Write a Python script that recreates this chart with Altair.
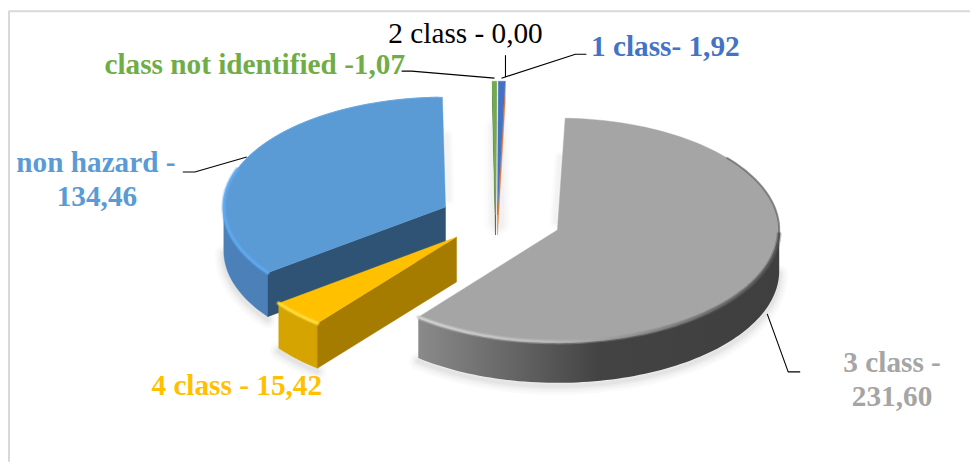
import math
import altair as alt

# ---- data
categories = ["3 class", "4 class", "non hazard", "class not identified", "1 class"]
values = [231.60, 15.42, 134.46, 1.07, 1.92]
zero_class = ("2 class", 0.00)
label_lines = [
    "2 class - 0,00", "class not identified -1,07", "1 class- 1,92",
    "non hazard -", "134,46", "4 class - 15,42", "3 class -", "231,60",
]

# ---- styling and placement
W, H = 963, 454
OFF = 8
START = 2.0
RX = 222
TOTAL = sum(values) + zero_class[1]
SERIF = "Liberation Serif"
GRAY_WALL = {"gradient": "linear", "x1": 0, "x2": 1, "y1": 0, "y2": 0, "stops": [
    {"offset": 0, "color": "#8a8a8a"}, {"offset": 0.25, "color": "#676767"},
    {"offset": 0.5, "color": "#434343"}, {"offset": 1, "color": "#3f3f3f"}]}
GRAY_RIM = {"gradient": "linear", "x1": 0, "x2": 1, "y1": 0, "y2": 0, "stops": [
    {"offset": 0, "color": "#d2d2d2"}, {"offset": 0.35, "color": "#bcbcbc"},
    {"offset": 0.6, "color": "#929292"}, {"offset": 0.85, "color": "#666666"},
    {"offset": 1, "color": "#505050"}]}
style = {
    "3 class": dict(c=(558, 230), ry=112, d=41, top="#a5a5a5", wall=GRAY_WALL, face="#7c7c7c",
                    rim=GRAY_RIM, rim_to=None),
    "4 class": dict(c=(457, 237), ry=111, d=45, top="#ffc000", wall="#d5a400", face="#a57b00",
                    rim="#ffdc40", rim_to=None),
    "non hazard": dict(c=(446, 207), ry=110, d=44, top="#5b9bd5", wall="#4b81b8", face="#2f5374",
                       rim="#5fa9f0", rim_to=290),
    "class not identified": dict(c=(496, 215), ry=134, d=20, top="#70ad47", wall="#3f6529",
                                 face="#3f6529", rim=None, rim_to=None),
    "1 class": dict(c=(498, 215), ry=134, d=20, top="#4472c4", wall="#ed7d31", face="#ed7d31",
                    rim=None, rim_to=None),
}
label_style = [
    (466, 43, "normal", "#000000"), (255, 74, "bold", "#70ad47"), (666, 56, "bold", "#4472c4"),
    (96, 172, "bold", "#5b9bd5"), (97, 206, "bold", "#5b9bd5"), (237, 395, "bold", "#ffc000"),
    (893, 372, "bold", "#a5a5a5"), (893, 406, "bold", "#a5a5a5"),
]
leaders = [
    [(402, 71), (412, 71), (495, 78)],
    [(506, 55), (506, 77)],
    [(502, 78), (576, 54), (587, 54)],
    [(183, 172), (195, 172), (247, 157)],
    [(768, 314), (789, 372), (801, 372)],
]
frame = [(9, 462), (9, 11), (971, 11)]

XS = alt.Scale(domain=[OFF, OFF + W], range=[0, W], nice=False, zero=False)
YS = alt.Scale(domain=[OFF + H, OFF], range=[H, 0], nice=False, zero=False)


def point(s, deg, drop=0, frac=1.0):
    t = math.radians(deg)
    return (s["c"][0] + frac * RX * math.sin(t), s["c"][1] - frac * s["ry"] * math.cos(t) + drop)


def arc(s, a, b, drop=0):
    n = max(2, int(abs(b - a) / 1.5) + 1)
    return [point(s, a + (b - a) * i / (n - 1), drop) for i in range(n)]


def path(pts, **mark):
    rows = [{"px": float(x), "py": float(y), "i": i} for i, (x, y) in enumerate(pts)]
    return alt.Chart(alt.Data(values=rows)).mark_line(**mark).encode(
        x=alt.X("px:Q", scale=XS, axis=None),
        y=alt.Y("py:Q", scale=YS, axis=None),
        order=alt.Order("i:Q"),
    )


def poly(pts, fill, **kw):
    closed = list(pts) + [pts[0]]
    stroke = fill if isinstance(fill, str) else "transparent"
    return path(closed, fill=fill, stroke=stroke, strokeWidth=kw.pop("sw", 0.4), strokeJoin="round", **kw)


def line(pts, stroke, width, **kw):
    return path(pts, stroke=stroke, strokeWidth=width, strokeJoin="round", **kw)


# angular spans, clockwise from the top, derived from the values
spans = {}
a = START
for name, v in zip(categories, values):
    sweep = v / TOTAL * 360
    spans[name] = (a, a + sweep)
    a += sweep
g = spans["class not identified"][1] - spans["class not identified"][0]
b = spans["1 class"][1] - spans["1 class"][0]
spans["1 class"] = (START - b, START)
spans["class not identified"] = (START - b - g, START - b)

layers = [line(frame, "#d9d9d9", 2)]

# soft shadows
for name in categories[:3]:
    s, (a0, a1) = style[name], spans[name]
    lo, hi = max(a0, 90), min(a1, 270)
    if hi > lo:
        for w, o in ((18, 0.02), (13, 0.025), (8, 0.03), (4, 0.03)):
            pts = [(x, y + 3) for x, y in arc(s, lo, hi, s["d"])]
            layers.append(line(pts, "#000000", w, opacity=o, strokeCap="round"))
for name, ang in (("non hazard", spans["non hazard"][1]), ("3 class", spans["3 class"][0])):
    s = style[name]
    shift = 3 if name == "non hazard" else -2
    for w, o in ((13, 0.012), (9, 0.015), (5, 0.02)):
        p = point(s, ang, 0, 0.65)
        layers.append(line([(p[0] + shift, p[1]), (s["c"][0] + shift, s["c"][1] - 8)], "#000000", w,
                           opacity=o, strokeCap="round"))
s = style["1 class"]
for w, o in ((26, 0.012), (20, 0.018), (14, 0.022)):
    layers.append(line([point(s, 0, 0, 0.65), point(s, 0, 8, 0.0)], "#000000", w, opacity=o, strokeCap="round"))

# slices, back to front
for name in ["non hazard", "4 class", "3 class", "class not identified", "1 class"]:
    s, (a0, a1) = style[name], spans[name]
    lo, hi = max(a0, 90), min(a1, 270)
    if hi > lo and name not in ("class not identified", "1 class"):
        layers.append(poly(arc(s, lo, hi) + arc(s, hi, lo, s["d"]), s["wall"]))
    c = s["c"]
    for ang, visible in ((a0, math.sin(math.radians(a0)) < 0), (a1, math.sin(math.radians(a1)) > 0)):
        if visible:
            pa = point(s, ang)
            layers.append(poly([c, pa, (pa[0], pa[1] + s["d"]), (c[0], c[1] + s["d"])], s["face"]))
    layers.append(poly([c] + arc(s, a0, a1), s["top"]))
    if s["rim"] is not None:
        if name == "3 class":
            rim_pts = arc(s, a1, 92)
        else:
            rim_pts = arc(s, max(a0, 90), s["rim_to"] if s["rim_to"] else hi)
        layers.append(line(rim_pts, s["rim"], 5, opacity=0.35, strokeCap="round"))
        layers.append(line(rim_pts, s["rim"], 2.5, opacity=0.9, strokeCap="round"))
    if name == "non hazard":
        layers.append(line(arc(s, 290, a1 - 1), "#6aa9e2", 1))
    if name == "3 class":
        layers.append(line(arc(s, 50, 92), "#555555", 2, opacity=0.6, strokeCap="round"))

# leader lines
for pts in leaders:
    layers.append(line(pts, "#000000", 1.1))

# labels
for text, (x, y, weight, colour) in zip(label_lines, label_style):
    layers.append(alt.Chart(alt.Data(values=[{"label": text}]))
                  .mark_text(font=SERIF, fontSize=29.3, fontWeight=weight, color=colour,
                             align="center", baseline="alphabetic")
                  .encode(x=alt.value(x - OFF), y=alt.value(y - OFF), text="label:N"))

chart = (alt.layer(*layers)
         .properties(width=W, height=H, padding=0)
         .configure_view(stroke=None))
chart.save("out.html", embed_options={"renderer": "svg", "actions": False})
